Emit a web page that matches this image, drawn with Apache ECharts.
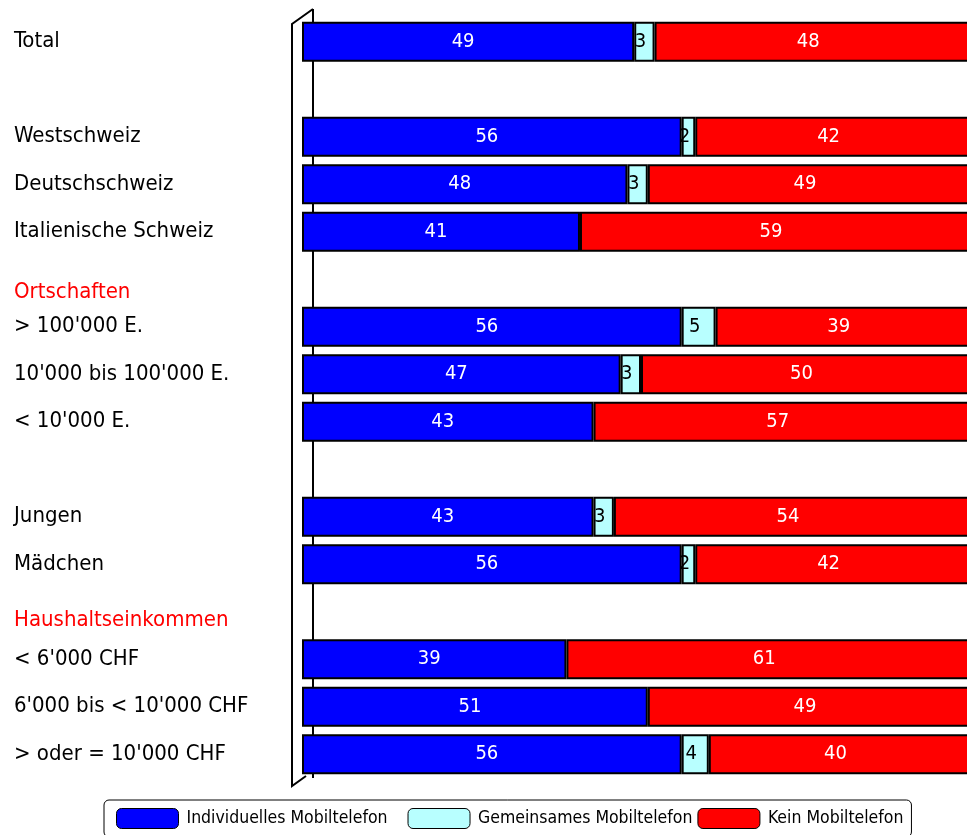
<!DOCTYPE html>
<html>
<head>
<meta charset="utf-8">
<script src="https://cdn.jsdelivr.net/npm/echarts@6/dist/echarts.min.js"></script>
<style>
  html, body { margin: 0; padding: 0; background: #fff; }
  #chart { width: 967px; height: 835px; }
</style>
</head>
<body>
<div id="chart"></div>
<script>
// 行：空字符串为空行，标题行（红色）无柱子
const categories = [
  'Total', '', 'Westschweiz', 'Deutschschweiz', 'Italienische Schweiz',
  'Ortschaften', '> 100\'000 E.', '10\'000 bis 100\'000 E.', '< 10\'000 E.', '',
  'Jungen', 'Mädchen', 'Haushaltseinkommen',
  '< 6\'000 CHF', '6\'000 bis < 10\'000 CHF', '> oder = 10\'000 CHF'
];

const individuell = [49, null, 56, 48, 41, null, 56, 47, 43, null, 43, 56, null, 39, 51, 56];
const gemeinsam   = [3, null, 2, 3, null, null, 5, 3, null, null, 3, 2, null, null, null, 4];
const kein        = [48, null, 42, 49, 59, null, 39, 50, 57, null, 54, 42, null, 61, 49, 40];

const seriesNames = ['Individuelles Mobiltelefon', 'Gemeinsames Mobiltelefon', 'Kein Mobiltelefon'];
const colors = ['#0000ff', '#b8ffff', '#ff0000'];

const FONT = "'Liberation Sans Narrow', 'DejaVu Sans Condensed', sans-serif";

const chart = echarts.init(document.getElementById('chart'));

const GRID_LEFT = 302, GRID_TOP = 18, GRID_W = 678, GRID_H = 760;

function barSeries(name, data, color, textColor, offsetX) {
  return {
    name, type: 'bar', stack: 'all', data,
    barCategoryGap: '16%',
    itemStyle: { color, borderColor: '#000', borderWidth: 2 },
    label: {
      show: true, position: 'inside', offset: [offsetX, 0],
      color: textColor, fontFamily: FONT, fontSize: 20,
      formatter: p => (p.value == null ? '' : p.value)
    },
    emphasis: { disabled: true },
    clip: false
  };
}

chart.setOption({
  backgroundColor: '#fff',
  animation: false,
  grid: {
    left: GRID_LEFT, top: GRID_TOP, width: GRID_W, height: GRID_H,
    outerBoundsMode: 'none', containLabel: false
  },
  xAxis: { type: 'value', min: 0, max: 100, show: false },
  yAxis: {
    type: 'category', data: categories, inverse: true,
    axisLine: { show: false }, axisTick: { show: false },
    axisLabel: {
      align: 'left', margin: GRID_LEFT - 14,
      fontFamily: FONT, fontSize: 22, color: '#000',
      formatter: v => v === 'Ortschaften' ? `{h1|${v}}`
        : v === 'Haushaltseinkommen' ? `{h2|${v}}` : v,
      rich: {
        h1: { color: '#ff0000', fontFamily: FONT, fontSize: 22, padding: [26, 0, 0, 0] },
        h2: { color: '#ff0000', fontFamily: FONT, fontSize: 22, padding: [18, 0, 0, 0] }
      }
    }
  },
  legend: {
    left: 104, top: 800,
    padding: [8, 8, 8, 12],
    borderColor: '#000', borderWidth: 1, borderRadius: 5,
    itemWidth: 62, itemHeight: 20, itemGap: 5,
    icon: 'roundRect',
    itemStyle: { borderColor: '#000', borderWidth: 1 },
    textStyle: { fontFamily: FONT, fontSize: 17.5, color: '#000', padding: [0, 0, 0, 3] },
    // 第一项后间距更宽
    formatter: n => n === seriesNames[0] ? n + '   ' : n,
    data: seriesNames
  },
  series: [
    barSeries(seriesNames[0], individuell, colors[0], '#fff', -5),
    barSeries(seriesNames[1], gemeinsam, colors[1], '#000', -4),
    barSeries(seriesNames[2], kein, colors[2], '#fff', -9)
  ],
  // 3D 背板边线（装饰）
  graphic: [
    { type: 'polyline', silent: true, z: -1,
      shape: { points: [[GRID_LEFT + 11, GRID_TOP - 9], [GRID_LEFT + 11, GRID_TOP + GRID_H]] },
      style: { stroke: '#000', lineWidth: 2, fill: null } },
    { type: 'polyline', silent: true,
      shape: { points: [[GRID_LEFT + 11, GRID_TOP - 9], [GRID_LEFT - 10, GRID_TOP + 6],
                        [GRID_LEFT - 10, GRID_TOP + GRID_H + 8], [GRID_LEFT + 4, GRID_TOP + GRID_H - 2]] },
      style: { stroke: '#000', lineWidth: 2, fill: null } }
  ]
});
</script>
</body>
</html>
